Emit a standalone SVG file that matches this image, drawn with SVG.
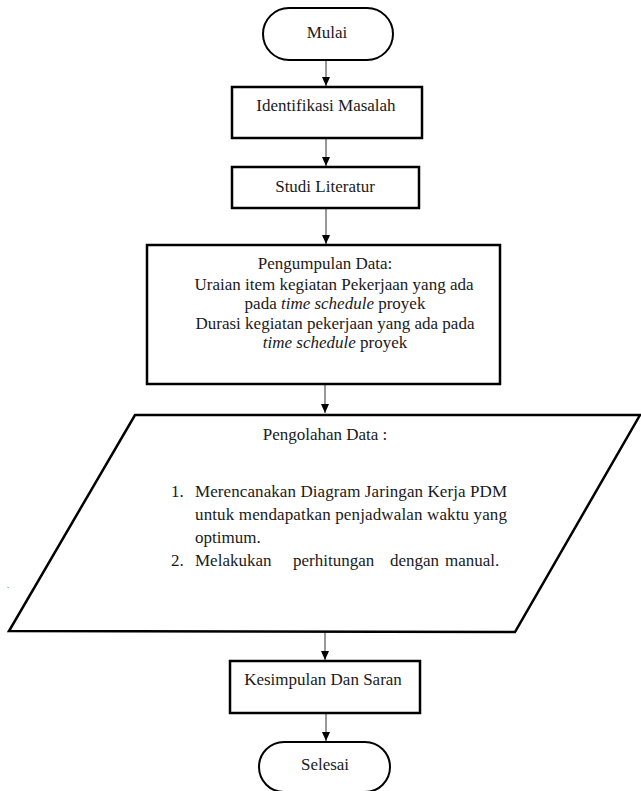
<svg xmlns="http://www.w3.org/2000/svg" width="641" height="791" viewBox="0 0 641 791">
<defs>
<style>
.box{fill:#fff;stroke:#000;stroke-width:2.5}
.term{fill:#fff;stroke:#000;stroke-width:2}
text{font-family:'Liberation Serif',serif;font-size:17px;fill:#1a1a1a}
.t{text-anchor:middle}
.c{stroke:#333;stroke-width:1;fill:none;marker-end:url(#arr)}
</style>
<marker id="arr" markerWidth="10" markerHeight="10" refX="9" refY="5" orient="auto" markerUnits="userSpaceOnUse">
<path d="M0,1 L9,5 L0,9 Z" fill="#000"/>
</marker>
</defs>
<rect width="641" height="791" fill="#fff"/>
<g id="connectors">
<line class="c" x1="326" y1="60" x2="326" y2="86"/>
<line class="c" x1="326" y1="139" x2="326" y2="166"/>
<line class="c" x1="326" y1="209" x2="326" y2="244"/>
<line class="c" x1="325" y1="385" x2="325" y2="413"/>
<line class="c" x1="325" y1="632" x2="325" y2="660"/>
<line class="c" x1="326" y1="714" x2="326" y2="741"/>
</g>
<g id="mulai">
<rect class="term" x="263" y="8" width="130" height="52" rx="26" ry="26"/>
<text class="t" x="327" y="38">Mulai</text>
</g>
<g id="identifikasi">
<rect class="box" x="232" y="87" width="190" height="51"/>
<text class="t" x="326" y="111">Identifikasi Masalah</text>
</g>
<g id="studi">
<rect class="box" x="232" y="167" width="187" height="41"/>
<text class="t" x="325" y="192">Studi Literatur</text>
</g>
<g id="pengumpulan">
<rect class="box" x="147" y="245" width="353" height="139"/>
<text class="t" x="325" y="269">Pengumpulan Data:</text>
<text class="t" x="334" y="290">Uraian item kegiatan Pekerjaan yang ada</text>
<text class="t" x="335" y="309">pada <tspan font-style="italic">time schedule</tspan> proyek</text>
<text class="t" x="335" y="329">Durasi kegiatan pekerjaan yang ada pada</text>
<text class="t" x="335" y="348"><tspan font-style="italic">time schedule</tspan> proyek</text>
</g>
<g id="pengolahan">
<polygon class="box" points="135,415 640,415 515,632 9,631"/>
<text class="t" x="325" y="440">Pengolahan Data :</text>
<text x="171" y="497">1.</text>
<text x="195" y="497" textLength="312" lengthAdjust="spacing">Merencanakan Diagram Jaringan Kerja PDM</text>
<text x="195" y="520" textLength="312" lengthAdjust="spacing">untuk mendapatkan penjadwalan  waktu yang</text>
<text x="195" y="543">optimum.</text>
<text x="171" y="566">2.</text>
<text y="566"><tspan x="195">Melakukan</tspan> <tspan x="293">perhitungan</tspan> <tspan x="390">dengan</tspan> <tspan x="445">manual.</tspan></text>
</g>
<text x="7" y="588" style="font-size:8px">.</text>
<g id="kesimpulan">
<rect class="box" x="230" y="661" width="190" height="52"/>
<text class="t" x="323" y="685">Kesimpulan Dan Saran</text>
</g>
<g id="selesai">
<rect class="term" x="259" y="742" width="131" height="50" rx="25" ry="25"/>
<text class="t" x="325" y="770">Selesai</text>
</g>
</svg>
